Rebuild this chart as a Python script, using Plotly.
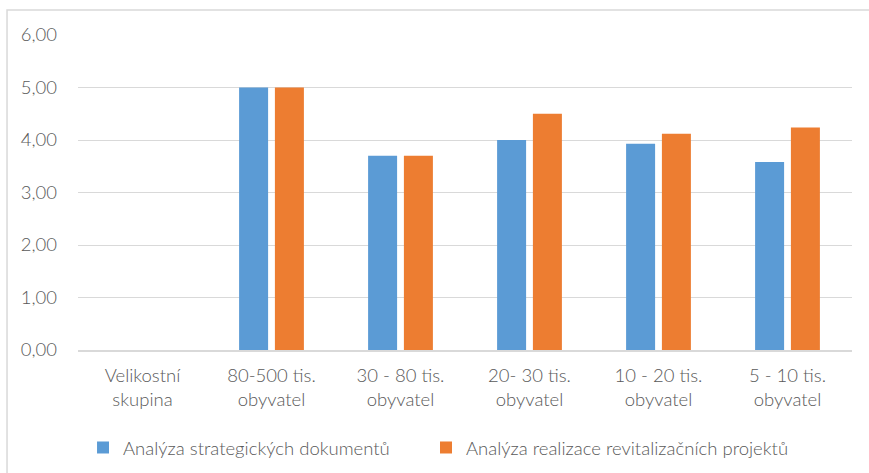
import plotly.graph_objects as go

categories = ["Velikostní<br>skupina", "80-500 tis.<br>obyvatel", "30 - 80 tis.<br>obyvatel",
              "20- 30 tis.<br>obyvatel", "10 - 20 tis.<br>obyvatel", "5 - 10 tis.<br>obyvatel"]
strategicke = [None, 5.00, 3.70, 4.00, 3.93, 3.58]
realizace = [None, 5.00, 3.70, 4.50, 4.12, 4.24]
series_names = ["Analýza strategických dokumentů", "Analýza realizace revitalizačních projektů"]
y_ticks = [0, 1, 2, 3, 4, 5, 6]
y_tick_text = ["0,00", "1,00", "2,00", "3,00", "4,00", "5,00", "6,00"]

FONT = "Lato, Carlito, sans-serif"
TXT = "#595959"
FS = 18.5
LEGFONT = dict(family=FONT, size=FS, color=TXT, weight=300)

fig = go.Figure()
fig.add_bar(x=categories, y=strategicke, name=series_names[0], marker_color="#5B9BD5",
            marker_line_width=0, legend="legend")
fig.add_bar(x=categories, y=realizace, name=series_names[1], marker_color="#ED7D31",
            marker_line_width=0, legend="legend2")

fig.update_layout(
    width=869, height=473,
    margin=dict(l=78, r=17, t=35, b=123, autoexpand=False),
    paper_bgcolor="white", plot_bgcolor="white",
    barmode="group", bargap=0.445, bargroupgap=0.19,
    font=dict(family=FONT, size=FS, color=TXT, weight=300),
    showlegend=True,
    legend=dict(orientation="h", x=0.0065, xanchor="left", y=-0.311, yanchor="middle",
                font=LEGFONT, itemwidth=30),
    legend2=dict(orientation="h", x=0.4496, xanchor="left", y=-0.311, yanchor="middle",
                 font=LEGFONT, itemwidth=30),
    xaxis=dict(showgrid=False, showline=True, linecolor="#D9D9D9", linewidth=1.5,
               ticks="", ticklabelstandoff=8, automargin=False,
               tickfont=dict(family=FONT, size=FS, color=TXT, weight=300)),
    yaxis=dict(range=[0, 6], tickvals=y_ticks, ticktext=y_tick_text,
               showgrid=True, gridcolor="#D9D9D9", gridwidth=1.3, zeroline=False,
               showline=False, ticks="", ticklabelstandoff=20, automargin=False,
               tickfont=dict(family=FONT, size=FS, color=TXT, weight=300)),
    shapes=[dict(type="rect", xref="paper", yref="paper",
                 x0=-0.0917, x1=1.05, y0=-0.45, y1=1.079,
                 line=dict(color="#D9D9D9", width=1.5), fillcolor="rgba(0,0,0,0)",
                 layer="below")],
)

fig.write_html("out.html", config={"displayModeBar": False},
               post_script="document.body.style.margin='0';")
